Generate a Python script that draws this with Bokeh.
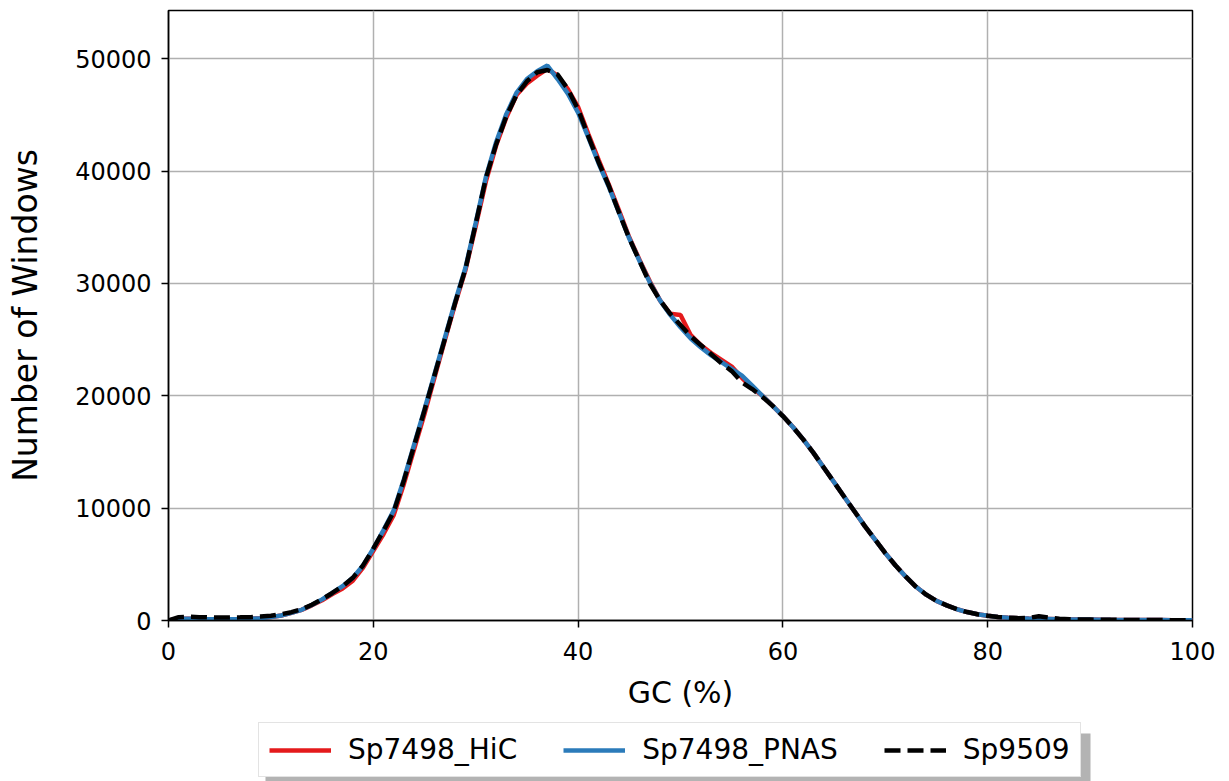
from bokeh.plotting import figure
from bokeh.models import Range1d, FixedTicker, Legend, LegendItem
from bokeh.layouts import column
from bokeh.embed import file_html
from bokeh.resources import INLINE

gc = list(range(101))

sp9509 = [0, 300, 330, 300, 280, 270, 270, 280, 300, 350,
          430, 560, 740, 1000, 1400, 1900, 2450, 3050, 3800, 4900,
          6400, 8000, 9700, 12500, 15600, 18700, 21900, 25100, 28300, 31300,
          35300, 39400, 42400, 44900, 46800, 48000, 48800, 49000, 48600, 47300,
          45500, 43100, 40800, 38700, 36300, 34000, 32000, 30000, 28500, 27300,
          26300, 25300, 24500, 23700, 22900, 22200, 21200, 20600, 19900, 19100,
          18200, 17200, 16100, 14900, 13600, 12300, 11000, 9700, 8400, 7200,
          6000, 4900, 3900, 3000, 2300, 1750, 1350, 1000, 750, 560,
          420, 320, 250, 210, 230, 380, 250, 150, 110, 90,
          80, 70, 60, 55, 50, 45, 40, 35, 30, 25, 20]

sp7498_pnas = [0, 150, 150, 130, 120, 120, 120, 130, 150, 200,
               300, 450, 680, 950, 1380, 1880, 2450, 3050, 3800, 4900,
               6400, 8050, 9800, 12600, 15700, 18800, 22000, 25200, 28400, 31400,
               35400, 39500, 42600, 45100, 47000, 48200, 48900, 49400, 48200, 46900,
               45200, 43000, 40700, 38600, 36300, 34000, 32000, 30100, 28500, 27200,
               26100, 25100, 24300, 23600, 23000, 22400, 21800, 20900, 20000, 19100,
               18200, 17200, 16100, 14900, 13600, 12300, 11000, 9700, 8400, 7200,
               6000, 4900, 3900, 3000, 2300, 1750, 1350, 1000, 750, 560,
               420, 320, 250, 200, 170, 150, 130, 110, 100, 90,
               80, 70, 60, 55, 50, 45, 40, 35, 30, 25, 20]

sp7498_hic = [0, 150, 150, 130, 120, 120, 120, 130, 150, 200,
              300, 450, 680, 950, 1350, 1800, 2350, 2850, 3550, 4700,
              6200, 7700, 9400, 12200, 15300, 18400, 21700, 25000, 28200, 31200,
              35100, 39100, 42300, 44800, 46800, 47800, 48500, 49100, 48500, 47300,
              45700, 43300, 41000, 38800, 36500, 34100, 32100, 30200, 28500, 27300,
              27200, 25400, 24500, 23800, 23200, 22600, 21600, 20700, 20000, 19100,
              18200, 17200, 16100, 14900, 13600, 12300, 11000, 9700, 8400, 7200,
              6000, 4900, 3900, 3000, 2300, 1750, 1350, 1000, 750, 560,
              420, 320, 250, 200, 170, 150, 130, 110, 100, 90,
              80, 70, 60, 55, 50, 45, 40, 35, 30, 25, 20]

labels = ["Sp7498_HiC", "Sp7498_PNAS", "Sp9509"]
colors = ["#e41a1c", "#2b7bba", "#000000"]

x_ticks = [0, 20, 40, 60, 80, 100]
y_ticks = [0, 10000, 20000, 30000, 40000, 50000]

FONT = "DejaVu Sans"
LW = 4.5
DASH = "16 7"

# ---------------- main plot ----------------
p = figure(frame_width=1024, frame_height=610, output_backend="svg", toolbar_location=None,
           x_range=Range1d(0, 100), y_range=Range1d(0, 54300),
           min_border_left=168, min_border_right=37, min_border_top=10,
           min_border_bottom=100)

p.outline_line_color = "black"
p.outline_line_width = 1.5
p.background_fill_color = "white"
p.border_fill_color = "white"

p.xgrid.ticker = FixedTicker(ticks=x_ticks)
p.ygrid.ticker = FixedTicker(ticks=y_ticks)
for g in (p.xgrid, p.ygrid):
    g.grid_line_color = "#b0b0b0"
    g.grid_line_width = 1.5

p.xaxis.ticker = FixedTicker(ticks=x_ticks)
p.yaxis.ticker = FixedTicker(ticks=y_ticks)
for ax in (p.xaxis, p.yaxis):
    ax.axis_line_color = "black"
    ax.axis_line_width = 1.5
    ax.major_tick_line_color = "black"
    ax.major_tick_line_width = 1.5
    ax.major_tick_out = 7
    ax.major_tick_in = 0
    ax.minor_tick_line_color = None
    ax.major_label_text_font = FONT
    ax.major_label_text_font_size = "24px"
    ax.major_label_text_color = "black"
    ax.axis_label_text_font = FONT
    ax.axis_label_text_font_style = "normal"
    ax.axis_label_text_color = "black"

p.xaxis.axis_label = "GC (%)"
p.yaxis.axis_label = "Number of Windows"
p.xaxis.axis_label_text_font_size = "30px"
p.yaxis.axis_label_text_font_size = "33px"
p.xaxis.major_label_standoff = 14
p.yaxis.major_label_standoff = 10
p.xaxis.axis_label_standoff = 12
p.yaxis.axis_label_standoff = 27
p.yaxis.formatter.use_scientific = False

r_hic = p.line(gc, sp7498_hic, line_color=colors[0], line_width=LW)
r_pnas = p.line(gc, sp7498_pnas, line_color=colors[1], line_width=LW)
r_9509 = p.line(gc, sp9509, line_color=colors[2], line_width=LW, line_dash=DASH)

# ---------------- legend strip (frame aligned with the plot above) ----------------
q = figure(frame_width=1024, frame_height=61, output_backend="svg", toolbar_location=None,
           x_range=Range1d(168, 1192), y_range=Range1d(0, 61),
           min_border_left=168, min_border_right=37, min_border_top=0,
           min_border_bottom=0, x_axis_type=None, y_axis_type=None)
q.outline_line_color = None
q.xgrid.visible = False
q.ygrid.visible = False
q.background_fill_color = "white"
q.border_fill_color = "white"

# legend shadow (decoration, page-pixel units)
q.quad(left=[265], right=[1090], bottom=[0], top=[48], fill_color="#9a9a9a",
       fill_alpha=0.75, line_color=None)

# hidden proxies carrying the same series styling for the legend entries
lh = q.line(gc, sp7498_hic, line_color=colors[0], line_width=LW, visible=False)
lp = q.line(gc, sp7498_pnas, line_color=colors[1], line_width=LW, visible=False)
lb = q.line(gc, sp9509, line_color=colors[2], line_width=LW, line_dash=DASH, visible=False)

legend = Legend(items=[LegendItem(label=labels[0], renderers=[lh]),
                       LegendItem(label=labels[1], renderers=[lp]),
                       LegendItem(label=labels[2], renderers=[lb])],
                orientation="horizontal", location=(90, 4),
                label_text_font=FONT, label_text_font_size="28px",
                label_text_color="black",
                glyph_width=62, glyph_height=20, label_standoff=17,
                spacing=46, padding=10, margin=0,
                inactive_fill_alpha=0.0,
                border_line_color="#c8c8c8", border_line_width=1.5,
                background_fill_color="white", background_fill_alpha=1.0)
q.add_layout(legend, "center")

layout = column(p, q, spacing=0)
open("out.html", "w").write(file_html(layout, INLINE))
